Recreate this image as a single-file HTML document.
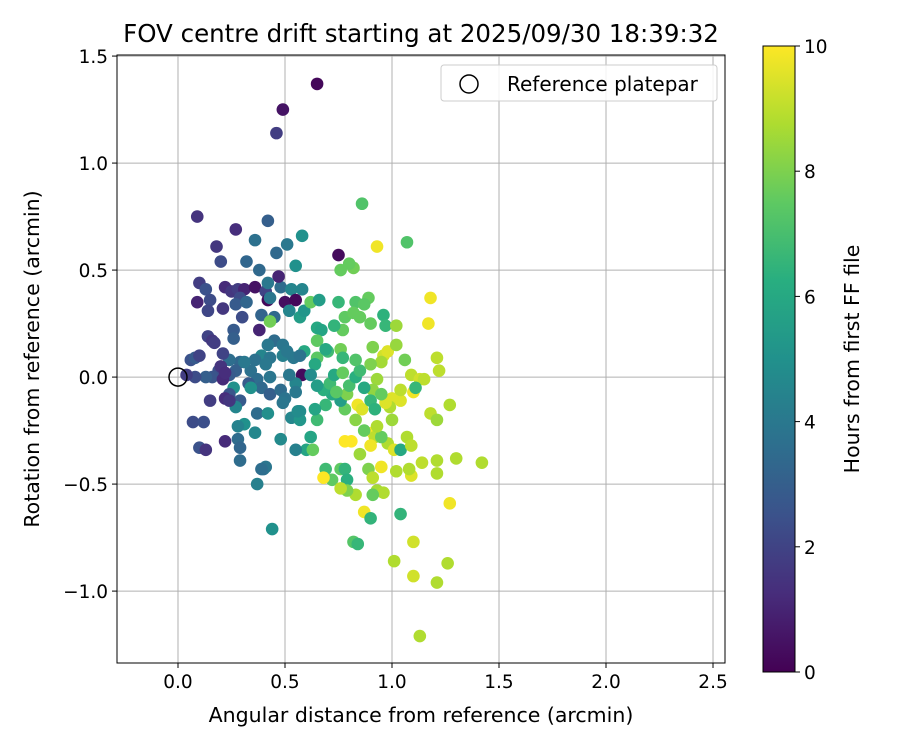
<!DOCTYPE html>
<html><head><meta charset="utf-8"><style>
body{margin:0;background:#fff;font-family:"Liberation Sans",sans-serif}
svg text{font-family:"DejaVu Sans","Liberation Sans",sans-serif}
</style></head><body>
<svg id="c" width="900" height="750" xmlns="http://www.w3.org/2000/svg">
<defs><linearGradient id="vg" x1="0" y1="1" x2="0" y2="0">
<stop offset="0" stop-color="#440154"/><stop offset="0.125" stop-color="#472d7b"/><stop offset="0.25" stop-color="#3b528b"/><stop offset="0.375" stop-color="#2c728e"/><stop offset="0.5" stop-color="#21918c"/><stop offset="0.625" stop-color="#28ae80"/><stop offset="0.75" stop-color="#5ec962"/><stop offset="0.875" stop-color="#addc30"/><stop offset="1" stop-color="#fde725"/>
</linearGradient></defs>
<g id="grid"></g><g id="pts"></g><g id="axes"></g>
</svg>
<script>
const xTicks=[0,0.5,1,1.5,2,2.5];
const yTicks=[-1,-0.5,0,0.5,1,1.5];
const cTicks=[0,2,4,6,8,10];
const xs=[0.65,0.49,0.46,0.09,0.18,0.27,0.42,0.20,0.32,0.36,0.46,0.51,0.58,0.38,0.55,0.75,0.86,0.93,1.07,0.76,0.82,0.80,
0.10,0.13,0.09,0.15,0.14,0.22,0.25,0.28,0.31,0.36,0.41,0.48,0.53,0.58,0.29,0.27,0.21,0.32,0.42,0.50,0.55,0.39,0.45,0.52,0.57,0.59,0.62,0.66,0.47,0.42,0.43,0.30,
0.65,0.67,0.75,0.78,0.77,0.83,0.85,0.89,0.87,0.90,0.96,0.97,1.02,0.91,0.96,0.98,1.02,1.06,0.82,0.73,0.70,
1.18,1.17,1.21,1.22,1.09,1.13,1.15,1.10,1.11,1.18,1.21,1.27,1.04,1.00,0.99,0.97,1.00,1.04,0.93,0.91,0.95,0.90,
0.98,1.01,1.04,1.07,1.09,1.14,1.21,1.21,1.09,1.08,1.02,0.95,0.93,0.96,0.91,0.83,0.87,0.90,1.04,1.30,1.42,1.27,1.26,1.21,1.10,1.01,1.10,1.13,0.82,0.84,
0.69,0.72,0.68,0.76,0.78,0.79,0.79,0.76,0.85,0.89,0.91,0.91,0.92,0.78,0.81,0.84,0.83,0.86,0.90,0.95,0.93,0.87,0.78,0.76,0.79,0.72,0.69,0.65,0.62,0.60,0.63,0.55,0.53,0.57,0.57,0.64,0.68,0.71,0.73,0.77,0.80,0.83,0.85,0.87,0.90,0.95,0.92,0.74,0.76,0.77,0.83,0.65,0.64,0.59,0.58,0.62,0.65,0.55,0.52,
0.45,0.49,0.49,0.54,0.51,0.39,0.43,0.36,0.29,0.24,0.27,0.34,0.37,0.41,0.43,0.39,0.33,0.26,0.24,0.19,0.16,0.13,0.08,0.06,0.08,0.04,0.10,0.20,0.21,0.22,0.14,0.16,0.17,0.26,0.26,0.21,0.38,0.42,0.31,0.57,0.43,0.48,0.50,0.49,0.34,0.29,0.27,0.24,0.22,0.24,0.15,0.07,0.12,0.22,0.10,0.13,0.28,0.29,0.31,0.28,0.36,0.37,0.42,0.40,0.41,0.37,0.39,0.29,0.44,0.56,0.55,0.48,
0.65,0.69,0.43];
const ys=[1.37,1.25,1.14,0.75,0.61,0.69,0.73,0.54,0.54,0.64,0.58,0.62,0.66,0.50,0.52,0.57,0.81,0.61,0.63,0.50,0.51,0.53,
0.44,0.41,0.35,0.36,0.31,0.42,0.40,0.41,0.41,0.42,0.40,0.42,0.41,0.41,0.37,0.34,0.32,0.35,0.36,0.35,0.36,0.29,0.28,0.31,0.28,0.31,0.35,0.36,0.47,0.44,0.37,0.28,
0.23,0.22,0.35,0.28,0.22,0.35,0.28,0.37,0.34,0.25,0.29,0.24,0.24,0.14,0.10,0.12,0.15,0.08,0.30,0.24,0.12,
0.37,0.25,0.09,0.03,0.01,-0.01,-0.01,-0.07,-0.05,-0.17,-0.20,-0.13,-0.11,-0.10,-0.14,-0.12,-0.20,-0.06,-0.01,-0.06,0.07,0.06,
-0.31,-0.34,-0.34,-0.28,-0.32,-0.40,-0.39,-0.45,-0.46,-0.43,-0.44,-0.42,-0.53,-0.54,-0.55,-0.55,-0.63,-0.66,-0.64,-0.38,-0.40,-0.59,-0.87,-0.96,-0.93,-0.86,-0.77,-1.21,-0.77,-0.78,
-0.43,-0.48,-0.47,-0.43,-0.43,-0.48,-0.53,-0.52,-0.36,-0.43,-0.47,-0.26,-0.28,-0.30,-0.30,-0.13,-0.20,-0.15,-0.32,-0.28,-0.23,-0.25,-0.15,-0.11,-0.08,-0.08,-0.13,-0.20,-0.28,-0.34,-0.34,-0.34,-0.19,-0.16,-0.20,-0.15,-0.06,-0.03,0.01,0.02,-0.04,0.00,0.03,-0.05,-0.11,-0.08,-0.15,-0.07,0.13,0.09,0.08,0.09,0.06,0.12,0.01,0.01,-0.04,-0.03,0.01,
0.17,0.15,0.10,0.09,0.12,0.10,0.09,0.08,0.07,0.08,0.03,0.03,-0.01,0.06,0.00,-0.05,-0.03,-0.05,0.01,0.03,0.00,0.00,0.00,0.08,0.09,0.01,0.10,0.05,-0.01,0.02,0.19,0.17,0.16,0.22,0.18,0.11,0.22,0.15,0.07,0.10,-0.08,-0.06,-0.10,-0.12,-0.05,-0.11,-0.14,-0.08,-0.10,-0.11,-0.11,-0.21,-0.21,-0.30,-0.33,-0.34,-0.29,-0.33,-0.22,-0.23,-0.26,-0.17,-0.17,-0.43,-0.42,-0.50,-0.43,-0.39,-0.71,-0.16,-0.07,-0.29,
0.17,0.13,0.26];
const hs=[0.2,0.5,1.8,1.5,1.6,1.3,3.0,2.3,3.3,3.7,3.4,4.0,5.0,3.4,5.0,0.3,7.2,9.8,7.2,7.6,7.8,7.6,
1.8,2.5,1.0,2.3,2.1,1.2,1.6,1.8,1.0,0.5,2.0,3.5,4.5,4.5,2.3,2.8,1.6,3.3,0.2,0.4,0.2,3.2,3.4,4.5,5.5,5.2,7.6,5.5,1.0,4.0,3.9,2.3,
6.0,5.8,6.6,7.5,7.6,7.2,7.6,7.6,7.4,7.6,6.4,6.6,8.5,8.0,9.3,9.5,8.4,7.8,7.6,6.5,6.8,
9.8,9.8,9.0,9.0,9.0,9.3,9.0,9.8,6.6,9.0,8.5,8.8,9.5,9.5,8.8,9.5,8.5,9.0,8.5,8.3,8.6,8.0,
8.8,9.5,6.0,8.8,9.0,9.0,8.8,8.8,9.5,8.8,8.8,9.8,8.6,8.8,7.6,8.8,9.8,6.5,6.5,8.8,8.8,9.8,8.8,8.8,9.3,8.8,9.3,8.8,7.3,6.6,
6.8,7.5,10,7.5,6.5,6.3,8.0,9.0,8.5,8.0,9.0,10,9.0,10,10,9.8,8.2,9.5,9.8,7.6,8.8,7.6,7.6,5.5,8.0,6.0,6.6,6.8,5.8,5.8,7.6,4.3,4.6,4.8,5.2,5.8,6.3,6.8,6.0,7.6,7.0,6.3,6.8,6.0,6.6,7.6,6.4,7.4,7.8,6.6,7.2,7.4,6.0,6.0,0.3,4.8,5.5,4.5,4.0,
3.5,3.9,4.3,4.0,4.0,4.5,3.9,3.7,3.3,3.6,3.0,3.7,3.6,4.0,3.9,3.4,2.8,5.0,2.8,2.4,2.6,3.0,2.3,2.5,2.8,1.8,2.0,1.5,1.2,1.3,2.0,1.6,1.8,2.8,3.0,2.0,1.0,4.0,4.0,3.8,3.0,3.5,3.8,3.9,5.0,2.8,4.5,2.6,1.3,1.6,1.8,2.3,2.4,1.2,2.5,1.5,3.5,3.3,5.0,4.4,4.6,3.5,4.9,3.7,3.9,4.3,3.6,3.5,5.0,4.8,4.0,4.7,
7.5,6.0,7.8];
const X0=117,X1=725,Y0=55,Y1=663,XMIN=-0.285,XMAX=2.556,YMIN=-1.336,YMAX=1.505;
const sx=v=>X0+(v-XMIN)/(XMAX-XMIN)*(X1-X0);
const sy=v=>Y1-(v-YMIN)/(YMAX-YMIN)*(Y1-Y0);
const CB=[[68,1,84],[71,45,123],[59,82,139],[44,114,142],[33,145,140],[40,174,128],[94,201,98],[173,220,48],[253,231,37]];
function vir(h){let t=Math.max(0,Math.min(1,h/10))*8,i=Math.min(7,Math.floor(t)),f=t-i;
 const a=CB[i],b=CB[i+1];return 'rgb('+a.map((v,k)=>Math.round(v+(b[k]-v)*f)).join(',')+')';}
const NS='http://www.w3.org/2000/svg';
function mk(p,tag,at,txt){const e=document.createElementNS(NS,tag);for(const k in at)e.setAttribute(k,at[k]);if(txt!==undefined)e.textContent=txt;p.appendChild(e);return e;}
const G=document.getElementById('grid'),P=document.getElementById('pts'),A=document.getElementById('axes');
xTicks.forEach(t=>{const x=sx(t);
 const g=mk(G,'line',{x1:x,x2:x,y1:Y0,y2:Y1,stroke:'#b0b0b0','stroke-width':1});
 
 
 mk(A,'line',{x1:x,x2:x,y1:Y1,y2:Y1+5,stroke:'#000'});
 const l=mk(A,'text',{x:x,y:Y1+25,'text-anchor':'middle','font-size':18.5},t.toFixed(1));
 
 });
yTicks.forEach(t=>{const y=sy(t);
 const g=mk(G,'line',{x1:X0,x2:X1,y1:y,y2:y,stroke:'#b0b0b0','stroke-width':1});
 
 
 mk(A,'line',{x1:X0-5,x2:X0,y1:y,y2:y,stroke:'#000'});
 const l=mk(A,'text',{x:X0-9,y:y+7,'text-anchor':'end','font-size':18.5},(t<0?'\u2212':'')+Math.abs(t).toFixed(1));
 
 });
for(let i=0;i<xs.length;i++){
 const c=mk(P,'circle',{cx:sx(xs[i]),cy:sy(ys[i]),r:6.3,fill:vir(hs[i])});
 
 }
const ref=mk(A,'circle',{cx:sx(0),cy:sy(0),r:9,fill:'none',stroke:'#000','stroke-width':1.5});


const fr=mk(A,'rect',{x:X0,y:Y0,width:X1-X0,height:Y1-Y0,fill:'none',stroke:'#000','stroke-width':1});


const ti=mk(A,'text',{x:421,y:42,'text-anchor':'middle','font-size':24.5},'FOV centre drift starting at 2025/09/30 18:39:32');


const xl=mk(A,'text',{x:421,y:722,'text-anchor':'middle','font-size':20.5},'Angular distance from reference (arcmin)');


const yl=mk(A,'text',{x:0,y:0,'text-anchor':'middle','font-size':20.5,transform:'translate(39,359) rotate(-90)'},'Rotation from reference (arcmin)');


const lg=mk(A,'rect',{x:441,y:65,width:276,height:36,rx:3,fill:'#fff','fill-opacity':0.85,stroke:'#ccc'});


mk(A,'circle',{cx:469,cy:84,r:9,fill:'none',stroke:'#000','stroke-width':1.5});
const lt=mk(A,'text',{x:507,y:91,'font-size':20},'Reference platepar');


const CX=763,CW=32,CT=46,CBm=672;
const cb=mk(A,'rect',{x:CX,y:CT,width:CW,height:CBm-CT,fill:'url(#vg)',stroke:'#000','stroke-width':1});


cTicks.forEach(t=>{const y=CBm-(t/10)*(CBm-CT);
 mk(A,'line',{x1:CX+CW,x2:CX+CW+5,y1:y,y2:y,stroke:'#000'});
 const l=mk(A,'text',{x:CX+CW+9,y:y+7,'font-size':18.5},String(t));
 
 });
const cl=mk(A,'text',{x:0,y:0,'text-anchor':'middle','font-size':20.5,transform:'translate(859,359) rotate(-90)'},'Hours from first FF file');


</script>
</body></html>
